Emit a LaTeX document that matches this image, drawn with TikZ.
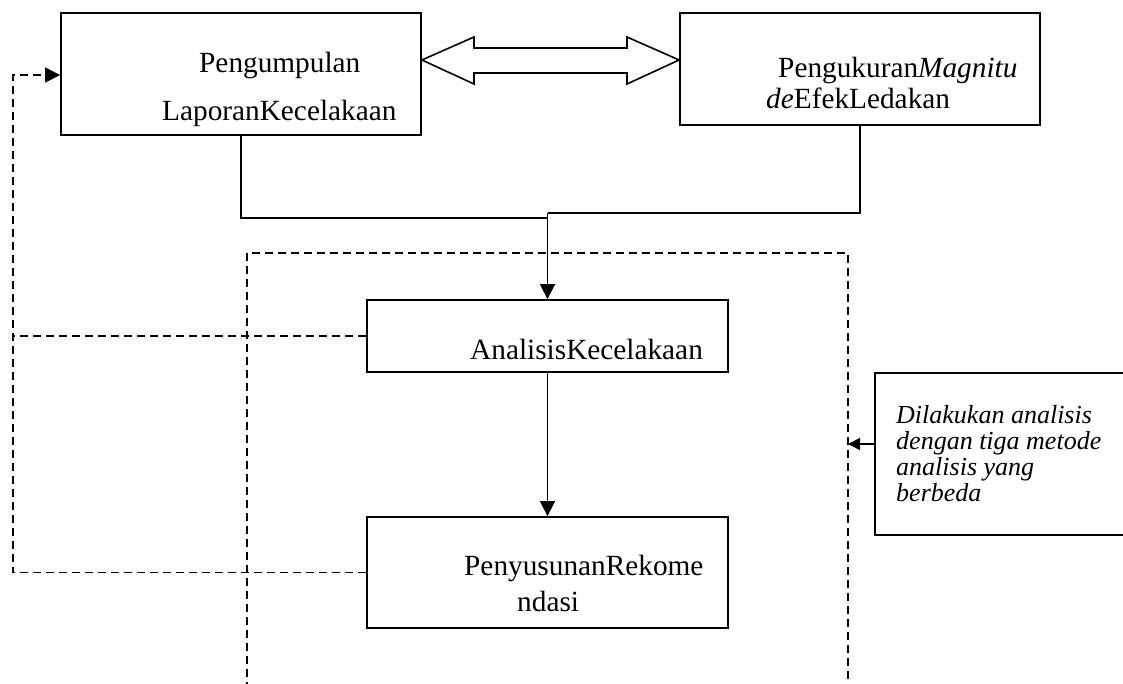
\documentclass[tikz,border=0pt]{standalone}
\usepackage{fontspec}
\setmainfont{Liberation Serif}
\usetikzlibrary{arrows.meta,calc}
\begin{document}
\begin{tikzpicture}[x=1pt,y=-1pt,
  box/.style={draw,line width=1.8pt,inner sep=0pt,fill=none},
  txt/.style={inner sep=0pt,anchor=base west,font=\fontsize{29.3}{35}\selectfont},
  ntxt/.style={inner sep=0pt,anchor=base west,font=\fontsize{26}{30}\selectfont\itshape},
  conn/.style={line width=1.6pt,-{Triangle[length=15pt,width=15pt]}},
  plain/.style={line width=1.6pt},
  dsh/.style={line width=1.5pt,dash pattern=on 8pt off 5pt},
  dsharrow/.style={dsh,-{Triangle[length=15pt,width=15pt]}}]
\clip (0,0) rectangle (1123,683);
\fill[white] (0,0) rectangle (1123,683);
% boxes
\node[box,minimum width=360pt,minimum height=122pt] (p1) at (241,74) {};
\node[box,minimum width=360pt,minimum height=112pt] (p2) at (860,69) {};
\node[box,minimum width=361pt,minimum height=72pt] (a) at (547.5,336) {};
\node[box,minimum width=361pt,minimum height=111pt] (r) at (547.5,572.5) {};
\node[box,minimum width=300pt,minimum height=162pt] (note) at (1025,454) {};
% texts
\node[txt] (t1a) at (199,72) {Pengumpulan};
\node[txt] (t1b) at (162,120) {LaporanKecelakaan};
\node[txt] (t2a) at (778,77) {Pengukuran\textit{Magnitu}};
\node[txt] (t2b) at (766,108) {\textit{de}EfekLedakan};
\node[txt] (t3) at (470,359) {AnalisisKecelakaan};
\node[txt] (t4a) at (464,575) {PenyusunanRekome};
\node[txt] (t4b) at (517,611) {ndasi};
\node[ntxt] (n1) at (896,423) {Dilakukan analisis};
\node[ntxt] (n2) at (896,449) {dengan tiga metode};
\node[ntxt] (n3) at (896,475) {analisis yang};
\node[ntxt] (n4) at (896,501) {berbeda};
% double arrow
\draw[line width=1.6pt,line join=miter]
  (p1.east |- 0,60) -- (474,37) -- (474,48) -- (627,48) -- (627,37)
  -- (p2.west |- 0,60) -- (627,84) -- (627,73) -- (474,73) -- (474,84) -- cycle;
% dashed frame
\draw[dsh] (247,690) -- (247,253) -- (848,253) -- (848,690);
% solid connectors
\coordinate (j1) at (a.north |- 0,218);
\coordinate (j2) at (a.north |- 0,213);
\draw[plain] (p1.south) |- (j1);
\draw[plain] (p2.south) |- (j2);
\draw[conn] (j2) -- (a.north);
\draw[conn] (a.south) -- (r.north);
% dashed feedback
\coordinate (c1) at (13,75);
\draw[dsharrow] (r.west) -- (13,572.5) -- (c1) -- (p1.west |- c1);
\draw[dsh] (a.west) -- (13,336);
% note arrow
\coordinate (nw) at ($(note.west)+(0,-10)$);
\draw[line width=1.6pt,-{Triangle[length=12pt,width=12pt]}] (nw) -- (848,0 |- nw);
\end{tikzpicture}
\end{document}
